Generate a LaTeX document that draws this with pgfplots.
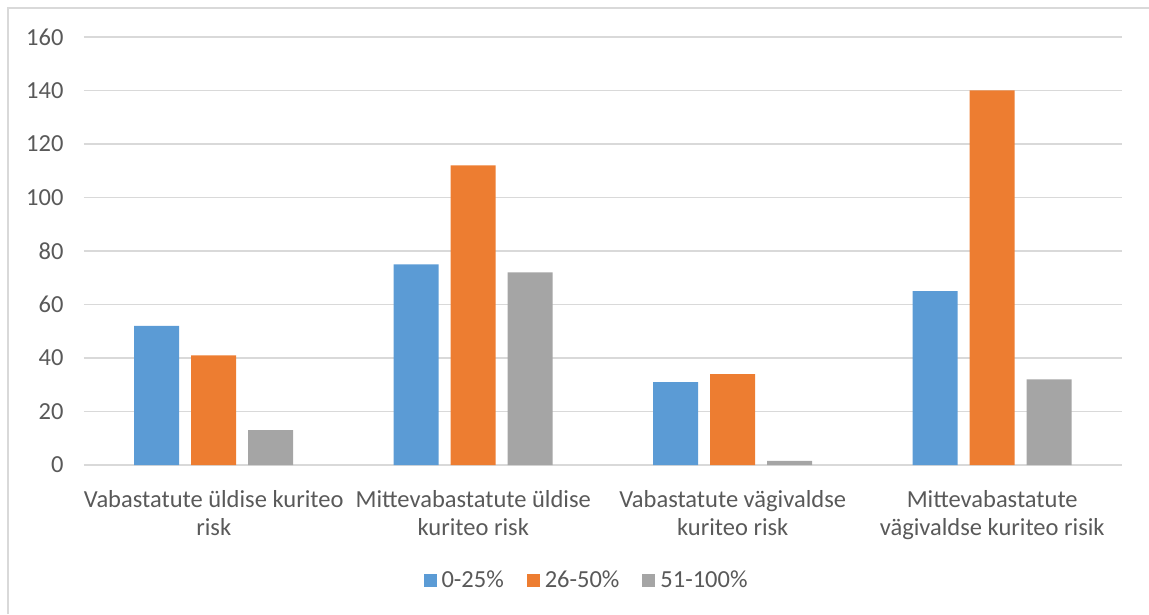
\documentclass[border=0pt]{standalone}
\usepackage{pgfplots}
\pgfplotsset{compat=1.18}
\usepackage{fontspec}
\setmainfont{Carlito}
\definecolor{cBlue}{HTML}{5B9BD5}
\definecolor{cOrange}{HTML}{ED7D31}
\definecolor{cGray}{HTML}{A5A5A5}
\definecolor{cGrid}{HTML}{D9D9D9}
\definecolor{cText}{HTML}{595959}
\begin{document}
\begin{tikzpicture}[x=1pt,y=1pt]
\path[use as bounding box] (0,0) rectangle (1149,614);
\draw[cGrid, line width=1.5pt] (8,0) -- (8,606) -- (1149,606);
\begin{axis}[
  at={(84pt,149pt)}, anchor=south west,
  scale only axis, width=1038pt, height=428pt,
  ybar=12pt, bar width=45pt,
  xmin=-0.5, xmax=3.5, ymin=0, ymax=160,
  xtick={0,1,2,3},
  xticklabels={{Vabastatute üldise kuriteo\\risk},{Mittevabastatute üldise\\kuriteo risk},{Vabastatute vägivaldse\\kuriteo risk},{Mittevabastatute\\vägivaldse kuriteo risik}},
  ytick={0,20,...,160},
  ymajorgrids, major grid style={cGrid, line width=1.2pt},
  axis line style={draw=none},
  tick style={draw=none},
  /pgf/number format/assume math mode=true,
  tick label style={font=\fontsize{24.5}{28}\selectfont, text=cText},
  yticklabel style={xshift=-17pt},
  xticklabel style={align=center, yshift=-18pt},
  legend style={at={(0.4832,-0.2687)}, anchor=center, draw=none, legend columns=-1,
    font=\fontsize{24.5}{28}\selectfont, text=cText,
    nodes={inner sep=0pt}, /tikz/every even column/.append style={column sep=23pt}},
  legend image code/.code={\fill[#1] (0pt,-6.5pt) rectangle (13pt,6.5pt);},
  legend cell align=left,
]
\addplot[fill=cBlue, draw=none] coordinates {(0,52) (1,75) (2,31) (3,65)};
\addplot[fill=cOrange, draw=none] coordinates {(0,41) (1,112) (2,34) (3,140)};
\addplot[fill=cGray, draw=none] coordinates {(0,13) (1,72) (2,1.5) (3,32)};
\legend{\hspace{5pt}0-25\%,\hspace{5pt}26-50\%,\hspace{5pt}51-100\%}
\end{axis}
\end{tikzpicture}
\end{document}
